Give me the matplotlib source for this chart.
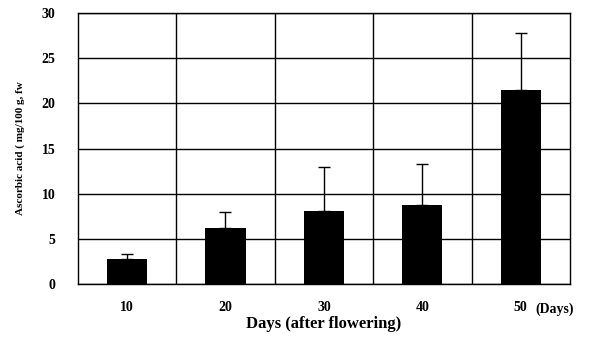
import matplotlib
matplotlib.use("Agg")
import matplotlib.pyplot as plt
import numpy as np

categories = ["10", "20", "30", "40", "50"]
values = [2.8, 6.2, 8.1, 8.8, 21.5]
errors = [0.5, 1.8, 4.8, 4.5, 6.3]
yticks = [0, 5, 10, 15, 20, 25, 30]

plt.rcParams['font.family'] = ['Liberation Serif', 'DejaVu Serif']

fig = plt.figure(figsize=(5.9, 3.43), dpi=100)
ax = fig.add_axes([0.132, 0.172, 0.834, 0.790])

x = np.arange(len(categories))
ax.bar(x, values, width=0.41, color='black', zorder=3)
ax.errorbar(x, values, yerr=[np.zeros(len(errors)), errors], fmt='none',
            ecolor='black', elinewidth=1, capsize=4, capthick=1, zorder=4)

ax.set_xlim(-0.5, len(categories) - 0.5)
ax.set_ylim(0, 30)
ax.set_yticks(yticks)
ax.set_yticklabels([str(t) for t in yticks], fontweight='bold', fontsize=10)
ax.set_xticks(x)
ax.set_xticklabels(categories, fontweight='bold', fontsize=10)
ax.tick_params(axis='x', length=0, pad=12)
ax.tick_params(axis='y', length=0, pad=16)

for b in np.arange(0.5, len(categories) - 0.5, 1.0):
    ax.axvline(b, color='black', lw=1, zorder=1)
ax.yaxis.grid(True, color='black', lw=1, zorder=1)
ax.set_axisbelow(True)
for s in ax.spines.values():
    s.set_color('black')
    s.set_linewidth(1)

ax.text(4.15, -0.095, "(Days)", transform=ax.get_xaxis_transform(),
        fontweight='bold', fontsize=10, ha='left', va='center')

ax.set_xlabel("Days (after flowering)", fontweight='bold', fontsize=12, labelpad=2)
ax.set_ylabel("Ascorbic acid ( mg/100 g, fw", fontweight='bold', fontsize=8, labelpad=12)

fig.savefig("out.png", dpi=100)
